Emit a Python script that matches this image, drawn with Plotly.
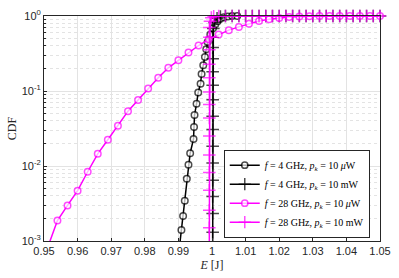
import plotly.graph_objects as go

# ---------------- data ----------------
# f = 4 GHz, p_k = 10 uW  (black circles)
e_4g_uw = [0.9904, 0.9909, 0.9914, 0.9919, 0.9925, 0.9930, 0.9935, 0.9945, 0.99465,
           0.9948, 0.9954, 0.9959, 0.9966, 0.9969, 0.9974, 0.9979, 0.9983, 0.9987,
           0.9995, 1.0003, 1.0010, 1.0017, 1.0025, 1.0035, 1.0047, 1.0060, 1.0075]
cdf_4g_uw = [0.0009, 0.0014, 0.00215, 0.00345, 0.00675, 0.0104, 0.0148, 0.0229, 0.0331,
             0.0479, 0.0675, 0.0958, 0.125, 0.169, 0.22, 0.284, 0.359, 0.451,
             0.566, 0.687, 0.776, 0.85, 0.92, 0.96, 0.985, 0.997, 1.0]

# f = 4 GHz, p_k = 10 mW  (black plus)
e_4g_mw = [1.0002, 1.0002, 1.0002, 1.0002, 1.0002, 1.0002, 1.0002, 1.0002, 1.0002,
           1.0002, 1.0002, 1.0002, 1.0002, 1.0002, 1.0002,
           1.0004, 1.0008, 1.0015, 1.0025,
           1.004, 1.006, 1.008, 1.010, 1.012, 1.014, 1.016, 1.018, 1.020, 1.022, 1.024,
           1.026, 1.028, 1.030, 1.032, 1.034, 1.036, 1.038, 1.040, 1.042, 1.044, 1.046,
           1.048, 1.050]
cdf_4g_mw = [0.0008, 0.00131, 0.00233, 0.00392, 0.00648, 0.0110, 0.0184, 0.0307, 0.046,
             0.0767, 0.119, 0.18, 0.27, 0.38, 0.52,
             0.68, 0.82, 0.93, 0.98,
             1.0, 1.0, 1.0, 1.0, 1.0, 1.0, 1.0, 1.0, 1.0, 1.0, 1.0,
             1.0, 1.0, 1.0, 1.0, 1.0, 1.0, 1.0, 1.0, 1.0, 1.0, 1.0,
             1.0, 1.0]

# f = 28 GHz, p_k = 10 uW  (magenta circles)
e_28g_uw = [0.951, 0.954, 0.957, 0.960, 0.963, 0.966, 0.969, 0.972, 0.975, 0.978, 0.981,
            0.984, 0.987, 0.990, 0.993, 0.996, 0.999, 1.002, 1.005, 1.008, 1.011,
            1.014, 1.017, 1.020, 1.023, 1.026, 1.029, 1.032, 1.035, 1.038, 1.041,
            1.044, 1.047, 1.050]
cdf_28g_uw = [0.0008, 0.00187, 0.00298, 0.00469, 0.00838, 0.01455, 0.0224, 0.0345, 0.0538,
              0.0758, 0.108, 0.150, 0.204, 0.257, 0.326, 0.404, 0.488, 0.566, 0.648,
              0.716, 0.789, 0.855, 0.907, 0.94, 0.97, 0.985, 0.993, 0.997, 1.0, 1.0,
              1.0, 1.0, 1.0, 1.0]

# f = 28 GHz, p_k = 10 mW  (magenta plus)
e_28g_mw = [0.9992, 0.9992, 0.9992, 0.9992, 0.9992, 0.9992, 0.9992, 0.9992, 0.9992,
            0.9992, 0.9992, 0.9992, 0.9992, 0.9992, 0.9992,
            0.9994, 0.9998, 1.0005,
            1.002, 1.004, 1.006, 1.008, 1.010, 1.012, 1.014, 1.016, 1.018, 1.020, 1.022,
            1.024, 1.026, 1.028, 1.030, 1.032, 1.034, 1.036, 1.038, 1.040, 1.042, 1.044,
            1.046, 1.048, 1.050]
cdf_28g_mw = [0.0008, 0.0015, 0.00257, 0.00474, 0.0082, 0.014, 0.0252, 0.0437, 0.066,
              0.097, 0.15, 0.228, 0.356, 0.52, 0.70,
              0.85, 0.95, 0.99,
              1.0, 1.0, 1.0, 1.0, 1.0, 1.0, 1.0, 1.0, 1.0, 1.0, 1.0,
              1.0, 1.0, 1.0, 1.0, 1.0, 1.0, 1.0, 1.0, 1.0, 1.0, 1.0,
              1.0, 1.0, 1.0]

x_tickvals = [0.95, 0.96, 0.97, 0.98, 0.99, 1.0, 1.01, 1.02, 1.03, 1.04, 1.05]
x_ticktext = ["0.95", "0.96", "0.97", "0.98", "0.99", "1", "1.01", "1.02", "1.03", "1.04", "1.05"]
y_tickvals = [0.001, 0.01, 0.1, 1]
y_ticktext = ["10<sup>-3</sup>", "10<sup>-2</sup>", "10<sup>-1</sup>", "10<sup>0</sup>"]
y_minor_vals = [m * d for d in (0.001, 0.01, 0.1) for m in (2, 3, 4, 5, 6, 7, 8, 9)]

names = ["<i>f</i> = 4 GHz, <i>p<sub>k</sub></i> = 10 <i>μ</i>W",
         "<i>f</i> = 4 GHz, <i>p<sub>k</sub></i> = 10 mW",
         "<i>f</i> = 28 GHz, <i>p<sub>k</sub></i> = 10 <i>μ</i>W",
         "<i>f</i> = 28 GHz, <i>p<sub>k</sub></i> = 10 mW"]

# ---------------- figure ----------------
BLACK = "#000000"
MAG = "#FF00FF"


def sizes(n, s):
    # first point lies below the axis range: hide its marker
    return [0] + [s] * (n - 1)


fig = go.Figure()
series = [
    (e_4g_uw, cdf_4g_uw, BLACK, "circle", names[0]),
    (e_4g_mw, cdf_4g_mw, BLACK, "cross-thin", names[1]),
    (e_28g_uw, cdf_28g_uw, MAG, "circle", names[2]),
    (e_28g_mw, cdf_28g_mw, MAG, "cross-thin", names[3]),
]
for xs, ys, col, sym, nm in series:
    ms = 6.5 if sym == "circle" else 9
    fig.add_trace(go.Scatter(
        x=xs, y=ys, mode="lines+markers", name=nm,
        line=dict(color=col, width=1.5),
        marker=dict(symbol=sym, size=sizes(len(xs), ms), color="white" if sym == "circle" else col,
                    line=dict(color=col, width=1.5)),
        cliponaxis=False,
    ))

axis_common = dict(
    showline=True, linecolor="#262626", linewidth=1, mirror=True,
    ticks="inside", ticklen=3, tickcolor="#262626",
    showgrid=True, gridcolor="#e3e3e3", gridwidth=1,
    zeroline=False,
    tickfont=dict(family="Liberation Sans, Arial, sans-serif", size=11, color="#262626"),
)

fig.update_xaxes(
    range=[0.95, 1.05], tickvals=x_tickvals, ticktext=x_ticktext,
    title=dict(text="<i>E</i> [J]", font=dict(family="Liberation Serif, serif", size=12, color="#262626"),
               standoff=4),
    **axis_common,
)
fig.update_yaxes(
    type="log", range=[-3, 0], tickvals=y_tickvals, ticktext=y_ticktext,
    title=dict(text="CDF", font=dict(family="Liberation Serif, serif", size=12, color="#262626"),
               standoff=2),
    minor=dict(tickmode="array", tickvals=y_minor_vals, ticks="inside", ticklen=2,
               tickcolor="#262626", showgrid=True, gridcolor="#e3e3e3", griddash="dot"),
    **axis_common,
)

fig.update_layout(
    width=399, height=278,
    margin=dict(l=44, r=13, t=8, b=36),
    paper_bgcolor="white", plot_bgcolor="white",
    showlegend=True,
    legend=dict(
        x=0.535, y=0.015, xanchor="left", yanchor="bottom",
        bgcolor="white", bordercolor="#262626", borderwidth=1,
        font=dict(family="Liberation Serif, serif", size=10, color="black"),
        itemwidth=30, tracegroupgap=0,
    ),
)

fig.write_html("out.html", config={"displayModeBar": False},
               post_script="document.body.style.margin='0';")
